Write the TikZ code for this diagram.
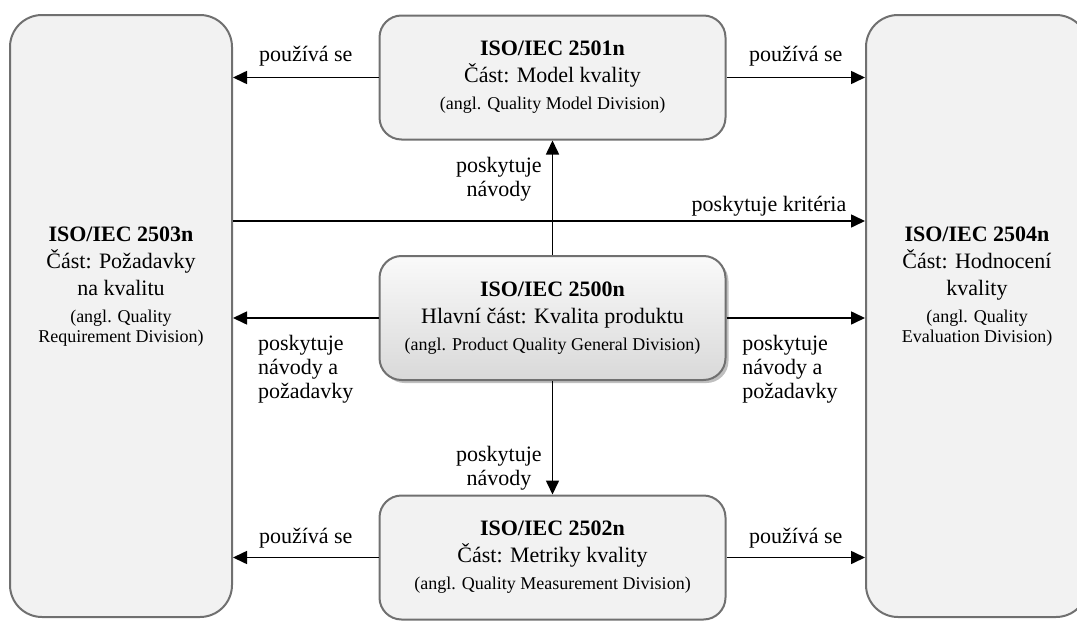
\documentclass[tikz,border=0pt]{standalone}
\usepackage{fontspec}
\setmainfont{Liberation Serif}
\usetikzlibrary{arrows.meta,shadows}

\definecolor{boxfill}{HTML}{F2F2F2}
\definecolor{boxline}{HTML}{707070}
\newcommand\anglfont{\fontsize{9}{10}\selectfont}

\begin{document}
\begin{tikzpicture}[x = 0.5pt, y = -0.5pt, line width = 0.8pt,
    >={Triangle[length=7pt, width=6.5pt]},
    part/.style = {draw = boxline, fill = boxfill, line width = 1pt, rounded corners = 11pt,
        minimum width = 173pt, minimum height = 62pt, align = center, font = \fontsize{11}{13.5}\selectfont},
    side/.style = {draw = boxline, fill = boxfill, line width = 1pt, rounded corners = 16pt,
        minimum width = 111pt, minimum height = 301pt},
    txt/.style = {align = center, font = \fontsize{11}{13.5}\selectfont},
    lbl/.style = {font = \fontsize{11}{12}\selectfont, inner sep = 2pt}]
    \useasboundingbox (0, 0) rectangle (1077, 621);
    \clip (0, 0) rectangle (1077, 621);

    \node[side](req) at (121, 316) {};
    \node[side](eval) at (977, 316) {};
    \node[txt](reqtxt) at (121, 287) {\textbf{ISO/IEC 2503n}\\ Část: Požadavky\\ na kvalitu\\
        \anglfont (angl. Quality\\[-3.5pt] \anglfont Requirement Division)};
    \node[txt](evaltxt) at (977, 287) {\textbf{ISO/IEC 2504n}\\ Část: Hodnocení\\ kvality\\
        \anglfont (angl. Quality\\[-3.5pt] \anglfont Evaluation Division)};

    \node[part](model) at (552.5, 77.5) {\textbf{ISO/IEC 2501n}\\ Část: Model kvality\\
        \anglfont (angl. Quality Model Division)};
    \node[part, top color = gray!4, bottom color = gray!30,
        drop shadow = {shadow xshift = 1.5pt, shadow yshift = -1.5pt, fill = gray, opacity = 0.5}](main) at (552.5, 318)
        {\textbf{ISO/IEC 2500n}\\ Hlavní část: Kvalita produktu\\ \anglfont (angl. Product Quality General Division)};
    \node[part](metric) at (552.5, 557.5) {\textbf{ISO/IEC 2502n}\\ Část: Metriky kvality\\
        \anglfont (angl. Quality Measurement Division)};

    \draw[->](model.west) -- node[lbl, above, yshift = 3.5pt]{používá se} (req.east |- model.west);
    \draw[->](model.east) -- node[lbl, above, yshift = 3.5pt]{používá se} (eval.west |- model.east);
    \draw[->](metric.west) -- node[lbl, above, yshift = 2.5pt]{používá se} (req.east |- metric.west);
    \draw[->](metric.east) -- node[lbl, above, yshift = 2.5pt]{používá se} (eval.west |- metric.east);

    \draw[->](req.east |- 0, 221) -- node[lbl, above left, pos = 0.978]{poskytuje kritéria} (eval.west |- 0, 221);

    \draw[->](main.west) -- node[lbl, below right, align = left, pos = 0.86, yshift = -6pt]
        {poskytuje\\ návody a\\ požadavky} (req.east |- main.west);
    \draw[->](main.east) -- node[lbl, below right, align = left, pos = 0.08, yshift = -6pt]
        {poskytuje\\ návody a\\ požadavky} (eval.west |- main.east);

    \draw[->](main.north) -- node[lbl, left, align = center, pos = 0.66, xshift = -3pt]
        {poskytuje\\ návody} (model.south);
    \draw[->](main.south) -- node[lbl, left, align = center, pos = 0.77, xshift = -3pt]
        {poskytuje\\ návody} (metric.north);
\end{tikzpicture}
\end{document}
